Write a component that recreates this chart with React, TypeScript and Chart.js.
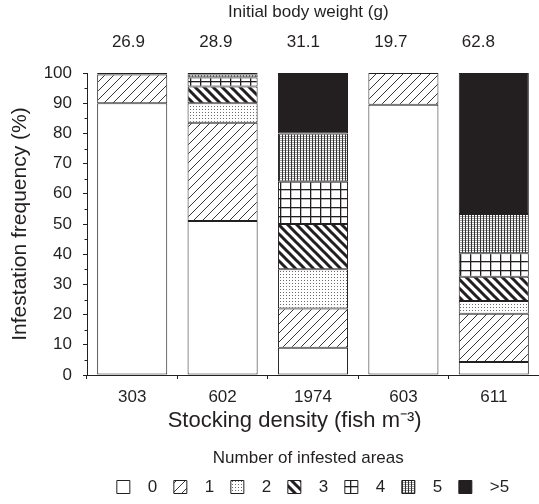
import React, { useEffect, useRef } from 'react';
import { Chart, registerables } from 'chart.js';

Chart.register(...registerables);

// ---- data ----
const densities = ['303', '602', '1974', '603', '611'];
const bodyWeights = ['26.9', '28.9', '31.1', '19.7', '62.8'];
const areaLabels = ['0', '1', '2', '3', '4', '5', '>5'];
const areas0 = [90, 51, 9, 89.5, 4.3];
const areas1 = [9.5, 32.5, 13, 10.5, 16];
const areas2 = [0.5, 6.5, 13, null, 4.2];
const areas3 = [null, 5.5, 15, null, 8];
const areas4 = [null, 3, 14, null, 7.8];
const areas5 = [null, 1, 16, null, 13];
const areasGt5 = [null, 0.5, 20, null, 46.7];
const minorTickValues = [5, 15, 25, 35, 45, 55, 65, 75, 85, 95];

const INK = '#231f20';
const FONT = "'Liberation Sans', Arial, Helvetica, sans-serif";

function makePattern(kind: string): CanvasPattern | string {
  if (kind === 'white') return '#ffffff';
  if (kind === 'black') return INK;
  const c = document.createElement('canvas');
  const ctx = c.getContext('2d') as CanvasRenderingContext2D;
  if (kind === 'hatch') {
    const s = 9;
    c.width = s; c.height = s;
    ctx.fillStyle = '#fff'; ctx.fillRect(0, 0, s, s);
    ctx.strokeStyle = INK; ctx.lineWidth = 0.9;
    ctx.beginPath();
    ctx.moveTo(-2, s + 2); ctx.lineTo(s + 2, -2);
    ctx.moveTo(-2, 2); ctx.lineTo(2, -2);
    ctx.moveTo(s - 2, s + 2); ctx.lineTo(s + 2, s - 2);
    ctx.stroke();
  } else if (kind === 'dots') {
    c.width = 3; c.height = 3;
    ctx.fillStyle = '#fff'; ctx.fillRect(0, 0, 3, 3);
    ctx.fillStyle = '#6a6a6a'; ctx.fillRect(1, 1, 1, 1);
  } else if (kind === 'thick') {
    const s = 9;
    c.width = s; c.height = s;
    ctx.fillStyle = '#fff'; ctx.fillRect(0, 0, s, s);
    ctx.strokeStyle = INK; ctx.lineWidth = 3;
    ctx.beginPath();
    ctx.moveTo(-2, -2); ctx.lineTo(s + 2, s + 2);
    ctx.moveTo(-2, s - 2); ctx.lineTo(2, s + 2);
    ctx.moveTo(s - 2, -2); ctx.lineTo(s + 2, 2);
    ctx.stroke();
  } else if (kind === 'grid') {
    c.width = 10; c.height = 9;
    ctx.fillStyle = '#fff'; ctx.fillRect(0, 0, 10, 9);
    ctx.fillStyle = INK;
    ctx.fillRect(0, 0, 10, 1.3);
    ctx.fillRect(0, 0, 1.3, 9);
  } else if (kind === 'dense') {
    c.width = 3; c.height = 2;
    ctx.fillStyle = '#fff'; ctx.fillRect(0, 0, 3, 2);
    ctx.fillStyle = '#a0a0a0'; ctx.fillRect(0, 0, 3, 1);
    ctx.fillStyle = '#333333'; ctx.fillRect(0, 0, 1, 2);
  }
  return ctx.createPattern(c, 'repeat') as CanvasPattern;
}

const minorTicksPlugin = {
  id: 'minorTicks',
  afterDraw(chart: any) {
    const y = chart.scales.y;
    const ctx = chart.ctx as CanvasRenderingContext2D;
    ctx.save();
    ctx.strokeStyle = INK;
    ctx.lineWidth = 1;
    for (const v of minorTickValues) {
      const py = Math.round(y.getPixelForValue(v)) + 0.5;
      ctx.beginPath();
      ctx.moveTo(y.right - 2.5, py);
      ctx.lineTo(y.right, py);
      ctx.stroke();
    }
    ctx.restore();
  },
};

export default function App() {
  const ref = useRef<HTMLCanvasElement | null>(null);

  useEffect(() => {
    if (!ref.current) return;
    const kinds = ['white', 'hatch', 'dots', 'thick', 'grid', 'dense', 'black'];
    const series = [areas0, areas1, areas2, areas3, areas4, areas5, areasGt5];
    const datasets = series.map((data, i) => ({
      label: areaLabels[i],
      data,
      backgroundColor: makePattern(kinds[i]),
      borderColor: INK,
      borderWidth: 1,
      borderSkipped: false as const,
      barPercentage: 0.775,
      categoryPercentage: 1,
    }));

    const chart = new Chart(ref.current, {
      type: 'bar',
      data: { labels: densities, datasets },
      plugins: [minorTicksPlugin],
      options: {
        animation: false,
        responsive: false,
        maintainAspectRatio: false,
        layout: { padding: 0 },
        font: { family: FONT, size: 17 },
        color: INK,
        plugins: {
          tooltip: { enabled: false },
          legend: {
            position: 'bottom',
            fullSize: false,
            maxHeight: 70,
            title: {
              display: true,
              text: 'Number of infested areas  ',
              color: INK,
              font: { family: FONT, size: 17 },
              padding: { top: 15.5, bottom: -8 },
            },
            labels: {
              color: INK,
              font: { family: FONT, size: 17 },
              boxWidth: 13,
              boxHeight: 13,
              padding: 16.6,
              generateLabels: (ch: any) =>
                Chart.defaults.plugins.legend.labels
                  .generateLabels(ch)
                  .map((l: any) => ({ ...l, text: '  ' + l.text })),
            },
          },
        },
        scales: {
          x: {
            stacked: true,
            offset: true,
            grid: { drawOnChartArea: false, tickLength: 4, color: INK, offset: true },
            border: { display: true, color: INK, width: 1 },
            ticks: { color: INK, font: { family: FONT, size: 17 }, padding: 8 },
            title: {
              display: true,
              text: 'Stocking density (fish m\u207B\u00B3)      ',
              color: INK,
              font: { family: FONT, size: 22 },
              padding: { top: 0, bottom: 0 },
            },
            afterFit: (s: any) => { s.height = 59; },
          },
          xTop: {
            type: 'linear',
            position: 'top',
            offset: false,
            bounds: 'data',
            min: -0.474,
            max: 4.694,
            grid: { display: false, drawTicks: false, offset: false },
            border: { display: false },
            ticks: {
              color: INK,
              font: { family: FONT, size: 17 },
              padding: 20,
              autoSkip: false,
              maxRotation: 0,
              callback: (v: any) => bodyWeights[v as number] ?? '',
            },
            afterBuildTicks: (s: any) => {
              s.ticks = bodyWeights.map((_, i) => ({ value: i }));
            },
            title: {
              display: true,
              text: 'Initial body weight (g)  ',
              color: INK,
              font: { family: FONT, size: 17 },
              padding: { top: 2.5, bottom: 0 },
            },
            afterFit: (s: any) => { s.height = 73; },
          },
          y: {
            stacked: true,
            min: 0,
            max: 100,
            grid: { drawOnChartArea: false, tickLength: 4, color: INK },
            border: { display: true, color: INK, width: 1 },
            ticks: { stepSize: 10, color: INK, font: { family: FONT, size: 17 }, padding: 11 },
            title: {
              display: true,
              text: 'Infestation frequency (%)',
              color: INK,
              font: { family: FONT, size: 21 },
              padding: { top: 7.5, bottom: 0 },
            },
            afterFit: (s: any) => { s.width = 87; },
          },
        },
      } as any,
    });
    return () => chart.destroy();
  }, []);

  return (
    <div style={{ position: 'absolute', left: 0, top: 0, width: 539, height: 504, background: '#fff' }}>
      <canvas ref={ref} width={539} height={504} />
    </div>
  );
}
